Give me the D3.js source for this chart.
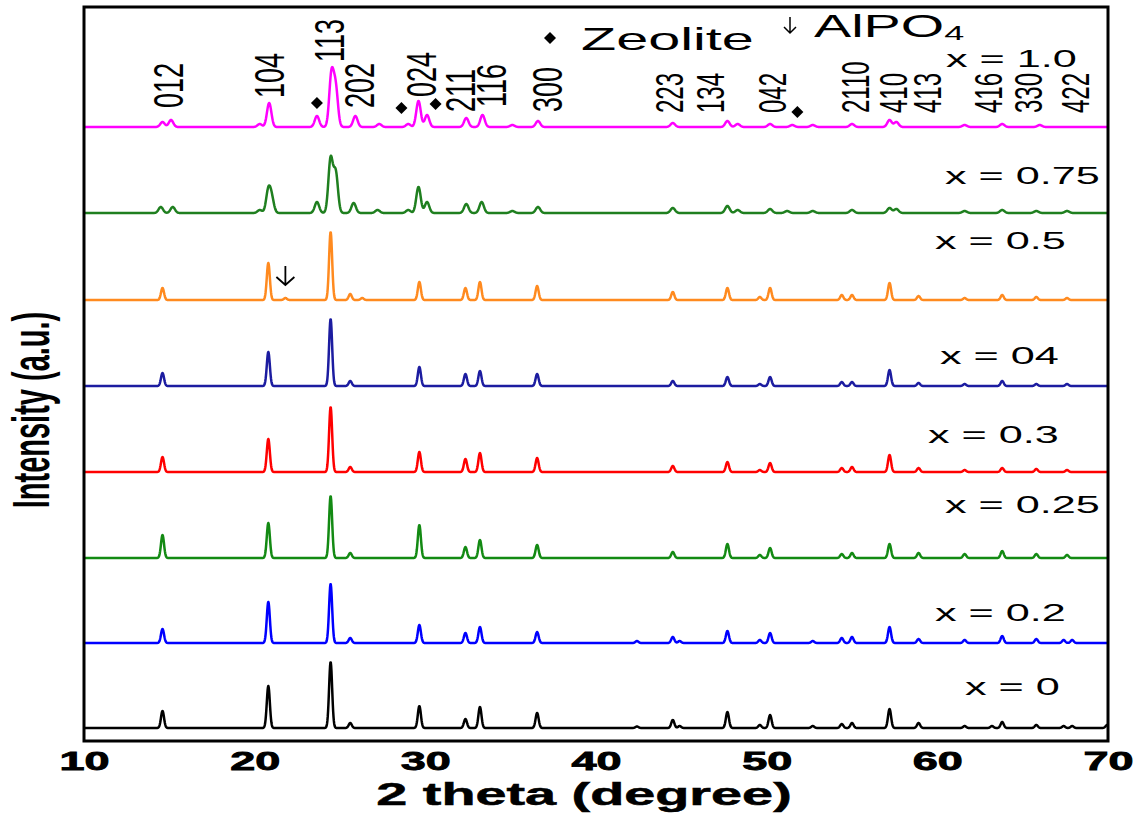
<!DOCTYPE html>
<html>
<head>
<meta charset="utf-8">
<script src="https://cdn.jsdelivr.net/npm/d3@7"></script>
<style>
  body { margin: 0; background: #fff; }
  text { font-family: "Liberation Sans", Arial, sans-serif; fill: #000; }
</style>
</head>
<body>
<div id="chart"></div>
<script>
// --- datos: picos [2theta, intensidad] ---
const seriesNames  = ["x = 0", "x = 0.2", "x = 0.25", "x = 0.3", "x = 04", "x = 0.5", "x = 0.75", "x = 1.0"];
const seriesColors = ["#000000", "#0000ff", "#138a13", "#ff0000", "#1c1ca0", "#ff8a1f", "#1f7f1f", "#ff00ff"];
const offsets      = [13, 98, 183, 269, 355, 441, 528, 614];   // desplazamiento vertical de cada patron
const peakSigma    = [0.09, 0.09, 0.09, 0.09, 0.09, 0.09, 0.13, 0.13];

const peaksX0 = [[14.6,17],[20.8,42],[24.45,66],[25.6,5],[29.65,22],[32.35,9],[33.2,21],[36.55,15],[42.4,1.5],
  [44.5,8],[44.9,2],[47.7,16],[49.6,3],[50.2,13],[52.7,2],[54.4,4],[55.0,5],[57.2,19],[58.9,5],[61.6,2],
  [63.2,2],[63.8,6],[65.8,3],[67.4,2],[67.9,2],[69.95,3]];
const peaksX02 = [[14.6,14],[20.8,41],[24.45,59],[25.6,5],[29.65,18],[32.35,10],[33.2,16],[36.55,11],[42.4,2],
  [44.5,6],[44.9,2],[47.7,12],[49.6,3],[50.2,10],[52.7,2],[54.4,5],[55.0,6],[57.2,16],[58.9,4],[61.6,3],
  [63.8,7],[65.8,4],[67.4,3],[67.9,3]];
const peaksX025 = [[14.6,23],[20.8,35],[24.45,62],[25.6,5],[29.65,33],[32.35,11],[33.2,18],[36.55,13],
  [44.5,6],[47.7,14],[49.6,3],[50.2,10],[54.4,4],[55.0,5],[57.2,14],[58.9,5],[61.6,4],[63.8,7],[65.8,4],[67.6,3]];
const peaksX03 = [[14.6,15],[20.8,33],[24.45,65],[25.6,5],[29.65,20],[32.35,13],[33.2,19],[36.55,14],
  [44.5,6],[47.7,10],[49.6,2],[50.2,9],[54.4,4],[55.0,5],[57.2,17],[58.9,4],[61.6,2],[63.8,4],[65.8,3],[67.6,2]];
const peaksX04 = [[14.6,13],[20.8,34],[24.45,67],[25.6,5],[29.65,19],[32.35,12],[33.2,15],[36.55,12],
  [44.5,5],[47.7,9],[49.6,2],[50.2,9],[54.4,4],[55.0,4],[57.2,16],[58.9,3],[61.6,2],[63.8,5],[65.8,2],[67.6,2]];
const peaksX05 = [[14.6,12],[20.8,37],[21.8,2],[24.45,68],[25.6,6],[26.3,2],[29.65,18],[32.35,12],[33.2,18],[36.55,14],
  [44.5,8],[47.7,12],[49.6,3],[50.2,12],[54.4,5],[55.0,5],[57.2,17],[58.9,4],[61.6,2],[63.8,5],[65.8,3],[67.6,2]];
const peaksX075 = [[14.5,6],[15.2,6],[20.3,3],[20.8,22],[21.0,14],[23.65,11],[24.45,54],[24.75,40],[25.8,10],[27.2,3],
  [29.0,3],[29.6,26],[30.1,11],[32.4,9],[33.3,11],[35.1,2],[36.6,6],[44.5,5],[47.7,7],[48.3,3],[50.2,4],[51.2,2],
  [52.7,2],[55.0,3],[57.2,5],[57.6,4],[61.6,2],[63.8,3],[65.8,2],[67.6,2]];
const peaksX10 = [[14.6,5],[15.1,7],[20.3,3],[20.85,24],[23.65,11],[24.5,52],[24.75,38],[25.9,11],[27.3,3],[29.0,3],
  [29.6,26],[30.1,12],[32.4,9],[33.35,12],[35.1,2],[36.6,6],[44.5,4],[47.7,6],[48.3,3],[50.2,3],[51.5,2],[52.7,2],
  [55.0,3],[57.2,7],[57.6,5],[61.6,2],[63.8,3],[66.0,2]];
const seriesPeaks = [peaksX0, peaksX02, peaksX025, peaksX03, peaksX04, peaksX05, peaksX075, peaksX10];

// indices hkl (posicion 2theta y nivel donde empieza la etiqueta)
const hklLabels = ["012","104","113","202","024","211","116","300","223","134","042","2110","410","413","416","330","422"];
const hklPos    = [14.9, 20.8, 24.3, 26.1, 29.7, 32.0, 33.8, 37.1, 44.3, 46.7, 50.3, 55.2, 57.4, 59.4, 63.0, 65.3, 68.1];
const hklLevel  = [633, 643, 679, 633, 644, 629, 634, 629, 628, 628, 628, 628, 628, 628, 628, 628, 628];

// marcas de zeolita (rombos) y AlPO4 (flecha)
const zeolitePos   = [23.65, 28.6, 30.6, 51.8];
const zeoliteLevel = [638, 633, 637, 629];
const alpoPos = 21.8, alpoTop = 475, alpoBottom = 456;

const xTicks = [10, 20, 30, 40, 50, 60, 70];

// --- configuracion ---
const W = 1141, H = 815;
const plot = {left: 84, right: 1108, top: 7, bottom: 741};
const SX = 1.8;   // la figura original esta estirada horizontalmente

const svg = d3.select("#chart").append("svg")
  .attr("width", W).attr("height", H);

const x = d3.scaleLinear().domain([10, 70]).range([plot.left, plot.right]);
const y = d3.scaleLinear().domain([0, 734]).range([plot.bottom, plot.top]);

// --- patrones ---
const grid = d3.range(10, 70.0001, 0.02);
const line = d3.line().x(d => x(d[0])).y(d => y(d[1]));

seriesPeaks.forEach((peaks, i) => {
  const s = peakSigma[i];
  const pts = grid.map(t => [t, offsets[i] + d3.sum(peaks, p => p[1] * Math.exp(-0.5 * ((t - p[0]) / s) ** 2))]);
  svg.append("path")
    .datum(pts)
    .attr("fill", "none")
    .attr("stroke", seriesColors[i])
    .attr("stroke-width", 2.5)
    .attr("stroke-linejoin", "round")
    .attr("d", line);
});

// --- marco ---
svg.append("rect")
  .attr("x", plot.left).attr("y", plot.top)
  .attr("width", plot.right - plot.left).attr("height", plot.bottom - plot.top)
  .attr("fill", "none").attr("stroke", "#000").attr("stroke-width", 3);

// --- eje x ---
const ax = svg.append("g")
  .attr("transform", `translate(0,${plot.bottom})`)
  .call(d3.axisBottom(x).tickValues(xTicks).tickSize(0).tickPadding(11).tickFormat(d3.format("d")));
ax.select(".domain").remove();
ax.selectAll("text")
  .attr("transform", `scale(${SX},1)`)
  .style("font-size", "25px")
  .style("font-weight", "bold")
  .style("font-family", "'Liberation Sans', Arial, sans-serif")
  .attr("fill", "#000")
  .attr("stroke", "#000")
  .attr("stroke-width", 0.8);

function wideText(tx, ty, str, size, weight, anchor) {
  return svg.append("text")
    .attr("transform", `translate(${tx},${ty}) scale(${SX},1)`)
    .attr("text-anchor", anchor || "start")
    .style("font-size", size + "px")
    .style("font-weight", weight || "normal")
    .text(str);
}

function tallText(tx, ty, str, size, weight, anchor, sx) {
  return svg.append("text")
    .attr("transform", `translate(${tx},${ty}) scale(${sx || SX},1) rotate(-90)`)
    .attr("text-anchor", anchor || "start")
    .attr("dy", "0.36em")
    .style("font-size", size + "px")
    .style("font-weight", weight || "normal")
    .text(str);
}

// titulos de ejes
wideText(584, 805, "2 theta (degree)", 31, "bold", "middle").attr("stroke", "#000").attr("stroke-width", 0.5);
tallText(30, 410, "Intensity (a.u.)", 29, "bold", "middle");

// indices hkl
hklLabels.forEach((h, i) => tallText(x(hklPos[i]), y(hklLevel[i]), h, i < 8 ? 27 : 24, "normal", "start", 1.6));

// etiquetas de cada patron
const labelX = [965, 935, 945, 928, 940, 935, 945, 946];
const labelY = [695, 621, 513, 443, 364, 249, 184, 67];
seriesNames.forEach((n, i) => wideText(labelX[i], labelY[i], n, 24));

// rombos de zeolita
function diamond(cx, cy, r) {
  return `M${cx},${cy - r}L${cx + r},${cy}L${cx},${cy + r}L${cx - r},${cy}Z`;
}
zeolitePos.forEach((p, i) => {
  svg.append("path").attr("d", diamond(x(p), y(zeoliteLevel[i]), 6)).attr("fill", "#000");
});

// flecha AlPO4
function arrow(cx, y0, y1, hw, hh) {
  return `M${cx},${y0}L${cx},${y1}M${cx - hw},${y1 - hh}L${cx},${y1}L${cx + hw},${y1 - hh}`;
}
svg.append("path")
  .attr("d", arrow(x(alpoPos), y(alpoTop), y(alpoBottom), 9, 8))
  .attr("fill", "none").attr("stroke", "#000").attr("stroke-width", 1.8);

// leyenda superior
svg.append("path").attr("d", diamond(550, 38, 6)).attr("fill", "#000");
wideText(581, 50, "Zeolite", 32);
svg.append("path")
  .attr("d", arrow(790, 17, 33, 6, 6))
  .attr("fill", "none").attr("stroke", "#000").attr("stroke-width", 1.5);
const alpo = wideText(814, 37, "AlPO", 31);
alpo.append("tspan").attr("dy", 3).style("font-size", "20px").text("4");
</script>
</body>
</html>
